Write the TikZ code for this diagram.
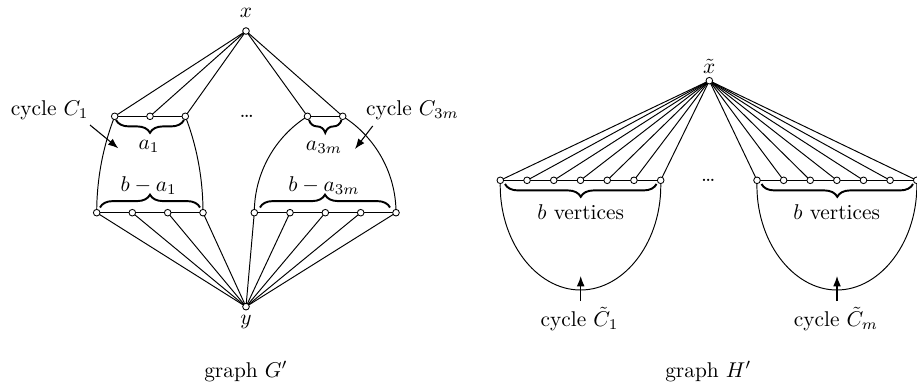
\documentclass[tikz,border=0pt]{standalone}
\usetikzlibrary{decorations.pathreplacing,arrows.meta}
\begin{document}
\begin{tikzpicture}[x=0.468pt,y=-0.468pt,
  v/.style={circle,draw,fill=white,inner sep=0pt,minimum size=3.1pt},
  edge/.style={line width=0.45pt},
  bracedown/.style={decorate,decoration={brace,mirror,amplitude=6pt},line width=0.9pt},
  braceup/.style={decorate,decoration={brace,amplitude=6pt},line width=0.9pt},
  arr/.style={line width=0.5pt,-{Latex[length=4.8pt,width=3.6pt]}},
  lbl/.style={inner sep=0pt}]
\useasboundingbox (0,0) rectangle (917,387);
% ---------- graph G' ----------
\coordinate (xpos) at (246,31);
\coordinate (ypos) at (246,306.7);
% rows
\foreach \n/\xx in {t1/114.7,t2/150,t3/185.3,u1/307.5,u2/342.7}
  \coordinate (\n) at (\xx,116.3);
\foreach \n/\xx in {b1/96.7,b2/132.3,b3/167.7,b4/203,c1/254.3,c2/290,c3/325.3,c4/360.7,c5/396}
  \coordinate (\n) at (\xx,212.7);
% edges
\foreach \n in {t1,t2,t3,u1,u2} \draw[edge] (xpos) -- (\n);
\foreach \n in {b1,b2,b3,b4,c1,c2,c3,c4,c5} \draw[edge] (ypos) -- (\n);
\draw[edge] (t1) -- (t2) -- (t3);
\draw[edge] (u1) -- (u2);
\draw[edge] (b1) -- (b2) -- (b3) -- (b4);
\draw[edge] (c1) -- (c2) -- (c3) -- (c4) -- (c5);
% cycle arcs
\draw[edge] (t1) .. controls (102.8,146.9) and (96.7,179.6) .. (b1);
\draw[edge] (t3) .. controls (197.2,146.9) and (203,179.6) .. (b4);
\draw[edge] (u1) .. controls (275,136.7) and (254.3,173) .. (c1);
\draw[edge] (u2) .. controls (375.2,136.7) and (396,173) .. (c5);
% vertices
\node[v] (x) at (xpos) {};
\node[v] (y) at (ypos) {};
\foreach \n in {t1,t2,t3,u1,u2,b1,b2,b3,b4,c1,c2,c3,c4,c5}
  \node[v] (v\n) at (\n) {};
% braces
\draw[bracedown] (116,120) -- (184,120);
\draw[bracedown] (309,120) -- (341.5,120);
\draw[braceup] (100,207.5) -- (200,207.5);
\draw[braceup] (260,207.5) -- (390,207.5);
% labels
\node[lbl] (lx) at (246,13) {$x$};
\node[lbl] (ly) at (246,322) {$y$};
\node[lbl] (la1) at (149,146.5) {$a_1$};
\node[lbl] (la3m) at (324,147.5) {$a_{3m}$};
\node[lbl] (lba1) at (148.7,185.5) {$b-a_1$};
\node[lbl] (lba3m) at (324,185.5) {$b-a_{3m}$};
\node[lbl] (ldots1) at (246.7,116.5) {\dots};
\node[lbl] (lc1) at (49.7,110) {cycle $C_1$};
\node[lbl] (lc3m) at (412.5,110) {cycle $C_{3m}$};
\coordinate (ac1s) at (90,125);
\coordinate (ac1e) at (118.3,148.3);
\coordinate (ac3s) at (372.7,126);
\coordinate (ac3e) at (355,149);
\draw[arr] (ac1s) -- (ac1e);
\draw[arr] (ac3s) -- (ac3e);
\node[lbl] (gG) at (246,371.7) {graph $G'$};
% ---------- graph H' ----------
\coordinate (xtpos) at (709.3,80.7);
\foreach \i in {1,...,7} {
  \coordinate (p\i) at ({500.3+26.73*(\i-1)},180.3);
  \coordinate (q\i) at ({757+26.62*(\i-1)},180.3);
}
\foreach \i in {1,...,7} {
  \draw[edge] (xtpos) -- (p\i);
  \draw[edge] (xtpos) -- (q\i);
}
\draw[edge] (p1) -- (p2) -- (p3) -- (p4) -- (p5) -- (p6) -- (p7);
\draw[edge] (q1) -- (q2) -- (q3) -- (q4) -- (q5) -- (q6) -- (q7);
\coordinate (lbot) at (580.5,290);
\coordinate (rbot) at (836.85,290);
\draw[edge] (p1) .. controls (498,240.5) and (536,290) .. (lbot)
            .. controls (625,290) and (663,240.5) .. (p7);
\draw[edge] (q1) .. controls (754.7,240.5) and (792.7,290) .. (rbot)
            .. controls (881,290) and (919,240.5) .. (q7);
\node[v] (xt) at (xtpos) {};
\foreach \i in {1,...,7} {
  \node[v] (vp\i) at (p\i) {};
  \node[v] (vq\i) at (q\i) {};
}
\draw[bracedown] (505,184) -- (656.5,184);
\draw[bracedown] (761.5,184) -- (913,184);
\node[lbl] (lxt) at (709.3,66) {$\tilde{x}$};
\node[lbl] (ldots2) at (708.3,180) {\dots};
\node[lbl] (lbv1) at (580.7,212) {$b$ vertices};
\node[lbl] (lbv2) at (836.7,212) {$b$ vertices};
\coordinate (at1s) at (580.7,301);
\coordinate (at1e) at (580.7,276);
\coordinate (at2s) at (837,301);
\coordinate (at2e) at (837,276);
\draw[arr] (at1s) -- (at1e);
\draw[arr] (at2s) -- (at2e);
\node[lbl] (lct1) at (579.5,319) {cycle $\tilde{C}_1$};
\node[lbl] (lctm) at (836,319) {cycle $\tilde{C}_m$};
\node[lbl] (gH) at (708.3,371.7) {graph $H'$};
\end{tikzpicture}
\end{document}
